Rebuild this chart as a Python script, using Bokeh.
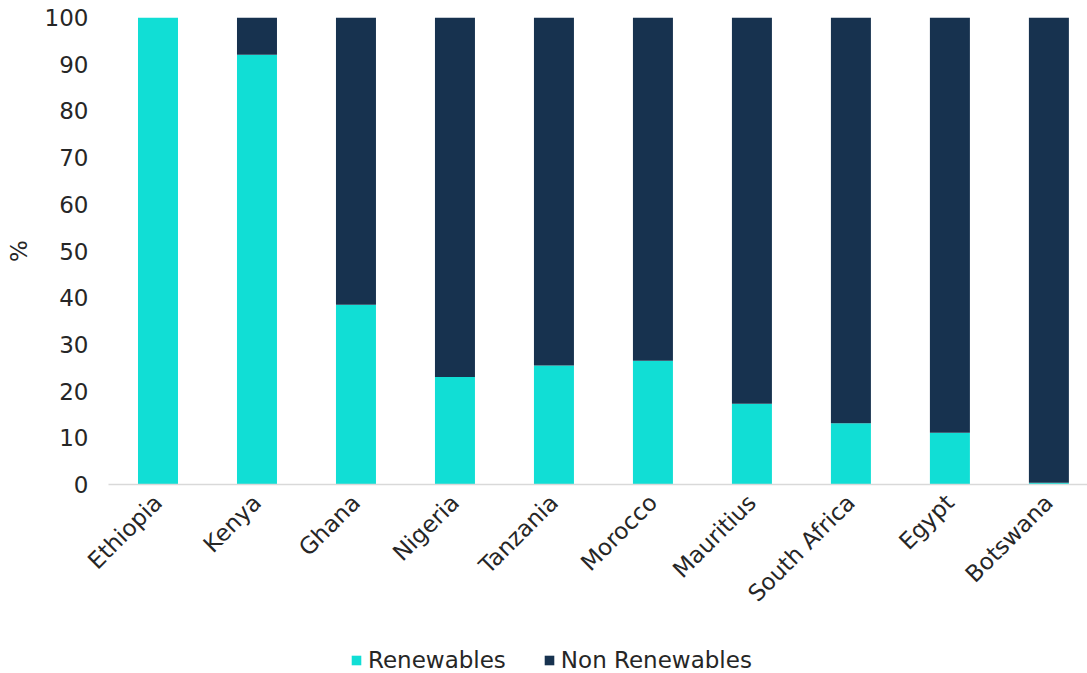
import math
from bokeh.plotting import figure
from bokeh.layouts import column
from bokeh.models import ColumnDataSource, FixedTicker, Legend, LegendItem, Range1d
from bokeh.embed import file_html
from bokeh.resources import INLINE

# Electricity generation mix by country (% of total)
countries = ["Ethiopia", "Kenya", "Ghana", "Nigeria", "Tanzania",
             "Morocco", "Mauritius", "South Africa", "Egypt", "Botswana"]
renewables = [100, 92, 38.5, 23, 25.5, 26.5, 17.3, 13.1, 11.1, 0.4]
non_renewables = [0, 8, 61.5, 77, 74.5, 73.5, 82.7, 86.9, 88.9, 99.6]
y_ticks = [0, 10, 20, 30, 40, 50, 60, 70, 80, 90, 100]
series = ["Renewables", "Non Renewables"]

TEAL = "#11ded5"
NAVY = "#17324f"
FONT = "DejaVu Sans"
FSIZE = "23px"
TEXT = "#262626"
W = 1087
LEGEND_H = 40

src = ColumnDataSource(dict(
    x=list(range(len(countries))),
    renewables=renewables,
    non_renewables=non_renewables,
))

p = figure(width=W, height=673 - LEGEND_H, output_backend="svg",
           toolbar_location=None,
           x_range=Range1d(-0.5, 9.39), y_range=Range1d(0, 100),
           min_border_left=108, min_border_right=0, min_border_top=17,
           min_border_bottom=673 - LEGEND_H - 484)
p.outline_line_color = None
p.grid.visible = False

p.vbar_stack(["renewables", "non_renewables"], x="x", width=0.404,
             color=[TEAL, NAVY], line_color=None, source=src)

# x axis with country names
xa = p.xaxis[0]
xa.ticker = FixedTicker(ticks=list(range(len(countries))))
xa.major_label_overrides = {i: c for i, c in enumerate(countries)}
xa.major_label_orientation = math.pi / 4
xa.major_tick_line_color = None
xa.minor_tick_line_color = None
xa.axis_line_color = "#d9d9d9"
xa.axis_line_width = 1.5
xa.major_label_text_font = FONT
xa.major_label_text_font_size = FSIZE
xa.major_label_text_color = TEXT
xa.major_label_standoff = 8

ya = p.yaxis[0]
ya.ticker = FixedTicker(ticks=y_ticks)
ya.axis_line_color = None
ya.major_tick_line_color = None
ya.minor_tick_line_color = None
ya.major_label_text_font = FONT
ya.major_label_text_font_size = FSIZE
ya.major_label_text_color = TEXT
ya.major_label_standoff = 14
ya.axis_label = "%"
ya.axis_label_text_font = FONT
ya.axis_label_text_font_size = FSIZE
ya.axis_label_text_font_style = "normal"
ya.axis_label_text_color = TEXT
ya.axis_label_standoff = 10

# legend strip underneath the chart; its stacked bars share the same data
# but lie below and to the right of the strip's visible range, so only the
# legend keys show
lf = figure(width=W, height=LEGEND_H, output_backend="svg", toolbar_location=None,
            x_range=Range1d(-101, -100), y_range=Range1d(200, 300),
            min_border=0, x_axis_location=None, y_axis_location=None)
lf.outline_line_color = None
lf.grid.visible = False
keys = lf.vbar_stack(["renewables", "non_renewables"], x="x", width=0.404,
                     color=[TEAL, NAVY], line_color=None, source=src)

legend = Legend(items=[LegendItem(label=series[0], renderers=[keys[0]]),
                       LegendItem(label=series[1], renderers=[keys[1]])],
                orientation="horizontal", location=(242, 0),
                border_line_color=None, background_fill_alpha=0,
                padding=0, margin=0, spacing=37, label_standoff=6,
                glyph_width=12, glyph_height=12,
                label_text_font=FONT, label_text_font_size=FSIZE,
                label_text_color=TEXT)
lf.add_layout(legend, "center")

open("out.html", "w").write(file_html(column(p, lf, spacing=0), INLINE))
